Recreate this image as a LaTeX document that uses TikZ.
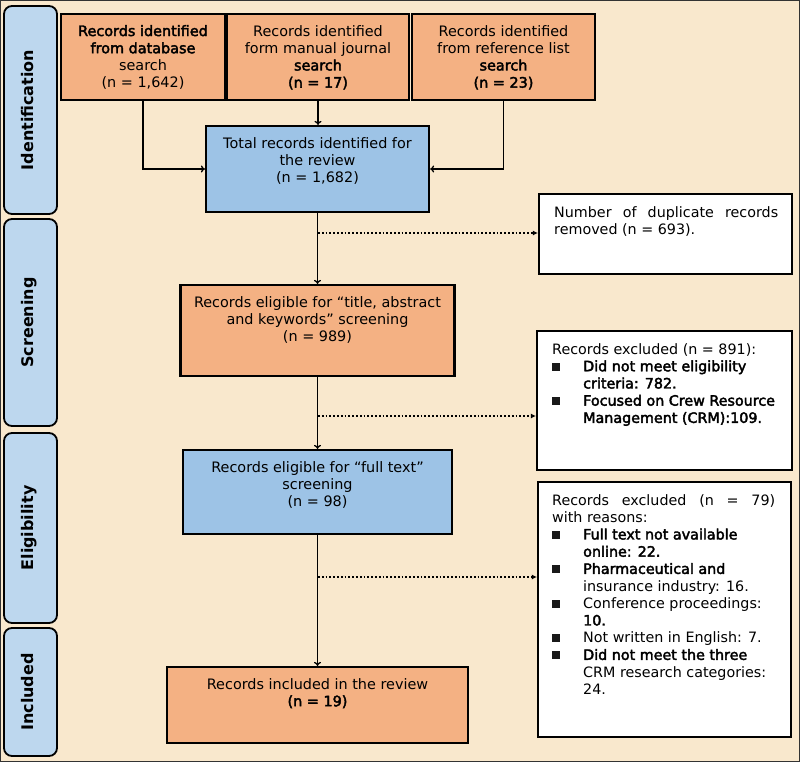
\documentclass[tikz,border=0pt]{standalone}
\usepackage{fontspec}
\setmainfont{DejaVu Sans}[BoldFont=DejaVu Sans, BoldFeatures={FakeBold=2.6}]
\newfontfamily\lblfont{DejaVu Sans Bold}
\usetikzlibrary{arrows.meta}
\definecolor{bgc}{HTML}{F9E8CD}
\definecolor{boxorange}{HTML}{F4B183}
\definecolor{boxblue}{HTML}{9DC3E6}
\definecolor{lblblue}{HTML}{BDD7EE}
\newcommand\sqb{\raisebox{0.5pt}{\textcolor{black!90}{\rule{8pt}{8pt}}}}
\newcommand\bitem[1]{\makebox[31pt][l]{\sqb}#1}
\newcommand\bcont[1]{\hspace*{31pt}#1}
\begin{document}
\begin{tikzpicture}[x=1pt,y=-1pt,
  box/.style={draw=black, line width=2.2pt, inner sep=0pt, rectangle},
  obox/.style={box, fill=boxorange},
  bbox/.style={box, fill=boxblue},
  wbox/.style={box, fill=white},
  lbl/.style={draw=black, line width=1.8pt, rounded corners=8pt, fill=lblblue, inner sep=0pt, minimum width=53pt},
  txt/.style={inner sep=0pt, align=center, font=\fontsize{14.4}{17.2}\selectfont},
  ltxt/.style={inner sep=0pt, align=left, font=\fontsize{14.3}{17.2}\selectfont},
  lbltxt/.style={rotate=90, inner sep=0pt, anchor=base, font=\fontsize{16}{18}\selectfont\lblfont},
  arr/.style={line width=1.3pt, -{To[length=4pt,width=7pt]}},
  dotarr/.style={line width=1.8pt, dotted, -{Latex[length=5pt,width=5pt]}}
]
\useasboundingbox (0,0) rectangle (800,762);
\fill[bgc] (0,0) rectangle (800,762);
\draw[line width=1.2pt, black!80] (0.6,0.6) rectangle (799.4,761.4);

% stage labels
\node[lbl, minimum height=208pt] (lid) at (30.5,110) {};
\node[lbltxt] (tid) at (lid.center -| 33,0) {Identification};
\node[lbl, minimum height=207pt] (lsc) at (30.5,322.5) {};
\node[lbltxt] (tsc) at (lsc.center -| 33,0) {Screening};
\node[lbl, minimum height=190pt] (lel) at (30.5,528) {};
\node[lbltxt] (tel) at (lel.center -| 33,0) {Eligibility};
\node[lbl, minimum height=128pt] (lin) at (30.5,692) {};
\node[lbltxt] (tin) at (lin.center -| 33,0) {Included};

% boxes
\node[obox, minimum width=164pt, minimum height=86pt] (b1) at (143,57) {};
\node[obox, minimum width=182pt, minimum height=86pt] (b2) at (318,57) {};
\node[obox, minimum width=183pt, minimum height=86pt] (b3) at (503.5,57) {};
\node[bbox, minimum width=223pt, minimum height=86pt] (tot) at (317.5,169) {};
\node[wbox, minimum width=253pt, minimum height=80pt] (dup) at (665.5,234) {};
\node[obox, minimum width=274pt, minimum height=91pt] (scr) at (317.5,330.5) {};
\node[wbox, minimum width=255pt, minimum height=139pt] (ex2) at (664.5,400.5) {};
\node[bbox, minimum width=269pt, minimum height=84pt] (full) at (317.5,492) {};
\node[wbox, minimum width=253pt, minimum height=255pt] (ex3) at (664.5,609.5) {};
\node[obox, minimum width=301pt, minimum height=76pt] (inc) at (317.5,705) {};

% texts
\node[txt, anchor=north] (t1) at ([yshift=-12pt]b1.north) {\textbf{Records identified}\\\textbf{from database}\\search\\(n = 1,642)};
\node[txt, anchor=north] (t2) at ([yshift=-12pt]b2.north) {Records identified\\form manual journal\\\textbf{search}\\\textbf{(n = 17)}};
\node[txt, anchor=north] (t3) at ([yshift=-12pt]b3.north) {Records identified\\from reference list\\\textbf{search}\\\textbf{(n = 23)}};
\node[txt, anchor=north] (tt) at ([yshift=-12pt]tot.north) {Total records identified for\\the review\\(n = 1,682)};
\node[txt, anchor=north] (ts) at ([yshift=-12pt]scr.north) {Records eligible for “title, abstract\\and keywords” screening\\(n = 989)};
\node[txt, anchor=north] (tf) at ([yshift=-12pt]full.north) {Records eligible for “full text”\\screening\\(n = 98)};
\node[txt, anchor=north] (ti) at ([yshift=-12pt]inc.north) {Records included in the review\\\textbf{(n = 19)}};

\node[ltxt, anchor=north west] (td) at (554,206) {\makebox[224pt][s]{Number of duplicate records}\\removed (n = 693).};
\node[ltxt, anchor=north west] (te2) at (552,343) {Records excluded (n = 891):\\
\bitem{\textbf{Did not meet eligibility}}\\
\bcont{\textbf{criteria: 782.}}\\
\bitem{\textbf{Focused on Crew Resource}}\\
\bcont{\textbf{Management (CRM):109.}}};
\node[ltxt, anchor=north west] (te3) at (552,494) {\makebox[223pt][s]{Records excluded (n = 79)}\\with reasons:\\
\bitem{\textbf{Full text not available}}\\
\bcont{\textbf{online: 22.}}\\
\bitem{\textbf{Pharmaceutical and}}\\
\bcont{insurance industry: 16.}\\
\bitem{Conference proceedings:}\\
\bcont{\textbf{10.}}\\
\bitem{Not written in English: 7.}\\
\bitem{\textbf{Did not meet the three}}\\
\bcont{CRM research categories:}\\
\bcont{24.}};

% connectors
\draw[arr] (b1.south) |- (tot.west);
\draw[arr] (b3.south) |- (tot.east);
\draw[arr] (b2.south) -- (b2.south |- tot.north);
\draw[arr] (tot.south) -- (scr.north);
\draw[arr] (scr.south) -- (full.north);
\draw[arr] (full.south) -- (inc.north);

\coordinate (d1) at (318,233);
\coordinate (d2) at (318,416);
\coordinate (d3) at (318,577);
\draw[dotarr] (d1) -- (d1 -| dup.west);
\draw[dotarr] (d2) -- (d2 -| ex2.west);
\draw[dotarr] (d3) -- (d3 -| ex3.west);
\end{tikzpicture}
\end{document}
